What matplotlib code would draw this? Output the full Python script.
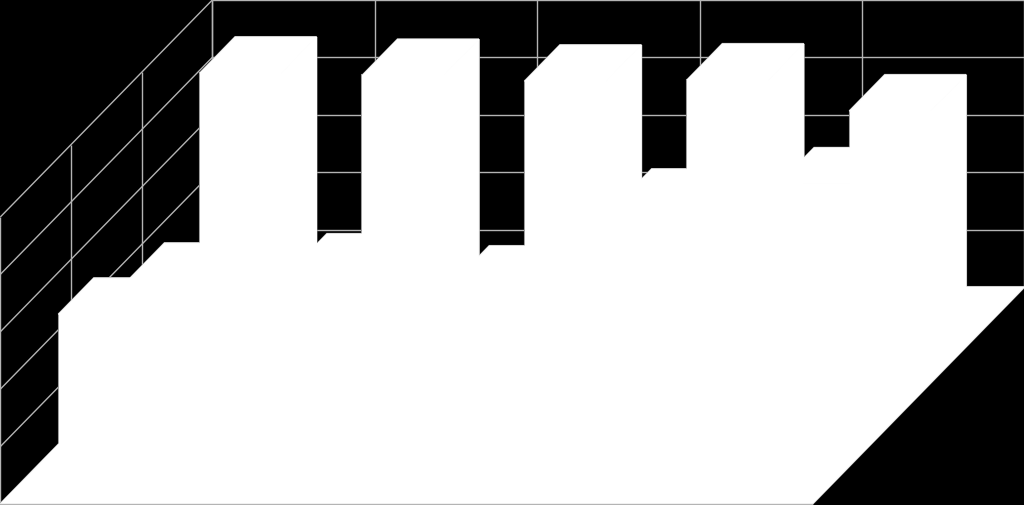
import matplotlib
matplotlib.use('Agg')
import matplotlib.pyplot as plt
from matplotlib.patches import Polygon

categories = [0, 1, 2, 3, 4]
# front row to back row, the front row is mostly hidden behind the others
series_front = [2.99, 2.4, 2.6, 2.5, 2.7]
series_middle = [2.34, 2.50, 2.29, 3.63, 4.00]
series_back = [4.67, 4.63, 4.53, 4.55, 4.01]
value_ticks = [0, 1, 2, 3, 4, 5]

# oblique projection of the chart box into pixels
X0, Y0 = 0.3, 504.0
CAT_W = 162.4
DEPTH_X, DEPTH_Y = 212.0, 217.0
UNIT = 57.4
GRID = '#b4b4b4'
EDGE = '#9a9a9a'


def proj(cat, depth, value):
    return (X0 + cat * CAT_W + depth * DEPTH_X,
            Y0 - depth * DEPTH_Y - value * UNIT)


def bar_faces(cat, row, value):
    c0, c1 = cat + 0.25, cat + 0.75
    d0, d1 = (row + 0.25) / 3, (row + 0.75) / 3
    front = [proj(c0, d0, 0), proj(c1, d0, 0), proj(c1, d0, value), proj(c0, d0, value)]
    side = [proj(c1, d0, 0), proj(c1, d1, 0), proj(c1, d1, value), proj(c1, d0, value)]
    top = [proj(c0, d0, value), proj(c1, d0, value), proj(c1, d1, value), proj(c0, d1, value)]
    return [front, side, top]


def line(ax, a, b):
    ax.plot([a[0], b[0]], [a[1], b[1]], color=GRID, lw=1.0, solid_capstyle='butt', zorder=1)


def main():
    fig = plt.figure(figsize=(10.24, 5.05), dpi=100, facecolor='black')
    ax = fig.add_axes([0, 0, 1, 1])
    ax.set_xlim(0, 1024)
    ax.set_ylim(505, 0)
    ax.axis('off')

    n = len(categories)
    top = value_ticks[-1]

    # back wall and side wall grid
    for v in value_ticks:
        line(ax, proj(0, 1, v), proj(n, 1, v))
        line(ax, proj(0, 0, v), proj(0, 1, v))
    for c in range(n + 1):
        line(ax, proj(c, 1, 0), proj(c, 1, top))
    for r in range(4):
        line(ax, proj(0, r / 3, 0), proj(0, r / 3, top))

    # floor
    floor = [proj(0, 0, 0), proj(n, 0, 0), proj(n, 1, 0), proj(0, 1, 0)]
    polys = [floor]

    for row, values in [(2, series_back), (1, series_middle), (0, series_front)]:
        for c, v in zip(categories, values):
            polys.extend(bar_faces(c, row, v))

    # outline pass first, then plain white so only the silhouette edge stays
    for p in polys:
        ax.add_patch(Polygon(p, closed=True, facecolor='white', edgecolor=EDGE, lw=1.5, zorder=2))
    for p in polys:
        ax.add_patch(Polygon(p, closed=True, facecolor='white', edgecolor='white', lw=0.8, zorder=3))

    # front edge of the floor
    a, b = proj(0, 0, 0), proj(n, 0, 0)
    ax.plot([a[0], b[0]], [a[1], b[1]], color=GRID, lw=1.0, zorder=4)

    fig.savefig('out.png', dpi=100, facecolor='black')


if __name__ == '__main__':
    main()
